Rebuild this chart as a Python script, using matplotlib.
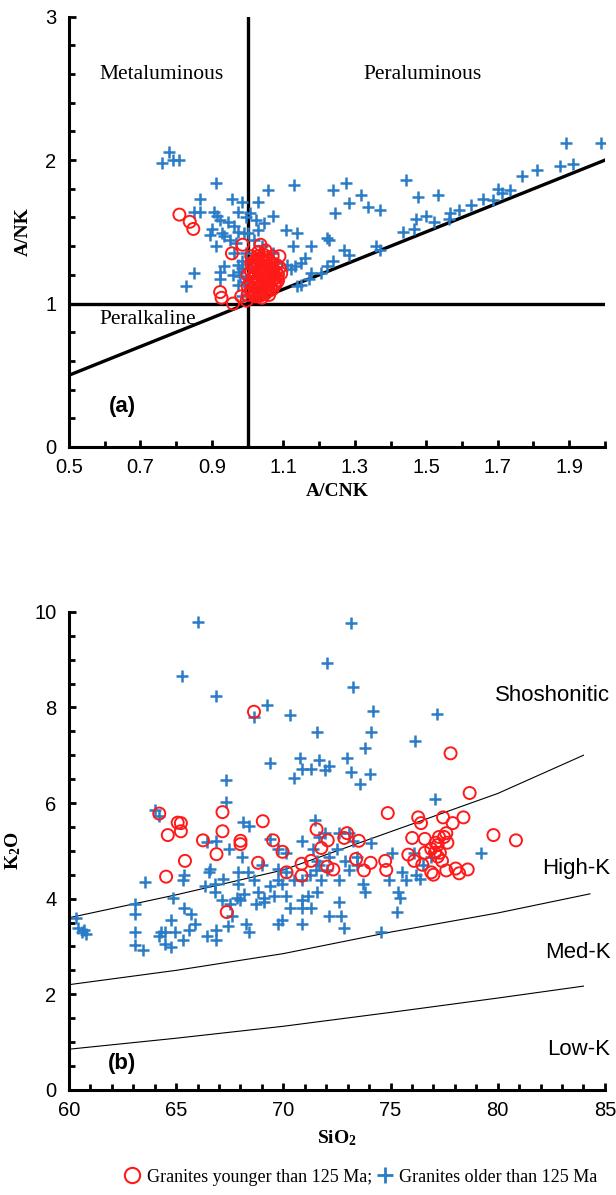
import matplotlib
matplotlib.use('Agg')
import matplotlib.pyplot as plt
from matplotlib.ticker import MultipleLocator
from matplotlib.lines import Line2D

BLUE = '#2a7cc6'
RED = '#ff1a1a'

# ---- (a) A/CNK vs A/NK ----
old_acnk = [0.761, 0.780, 0.791, 0.807, 0.912, 0.866, 0.851, 0.868, 0.906, 0.915,
            0.955, 0.984, 0.973, 1.006, 1.030, 1.058, 1.072, 1.130, 1.023, 1.045,
            0.945, 0.962, 0.901, 0.929, 0.973, 0.912, 1.001, 1.106, 1.139, 1.128,
            1.178, 1.222, 1.227, 1.238, 1.275, 1.283, 1.316, 1.338, 1.371, 1.244,
            1.443, 1.478, 1.533, 1.498, 1.470, 1.522, 1.434, 1.465, 1.564, 1.592,
            1.625, 1.660, 1.686, 1.700, 1.713, 1.735, 1.768, 1.809, 1.873, 1.912,
            1.892, 1.990, 1.566, 1.360, 1.371, 1.271, 1.283, 1.238, 1.222, 1.205,
            1.178, 1.172, 1.150, 1.133, 1.139, 1.150, 1.122, 1.161, 1.072, 1.083,
            1.111, 0.923, 0.934, 0.923, 0.851, 0.827, 0.973, 0.984, 0.962, 0.995,
            0.978, 0.973, 0.984, 0.967, 0.989, 0.951, 1.017, 1.039, 1.028, 0.995,
            0.923, 0.934, 0.896, 1.017, 1.001, 0.985, 0.975, 0.990, 1.010, 0.960]
old_ank = [1.98, 2.06, 2.00, 2.00, 1.84, 1.73, 1.64, 1.64, 1.64, 1.61,
           1.73, 1.71, 1.64, 1.63, 1.71, 1.79, 1.61, 1.83, 1.58, 1.56,
           1.57, 1.54, 1.52, 1.49, 1.50, 1.40, 1.49, 1.51, 1.49, 1.40,
           1.40, 1.46, 1.44, 1.79, 1.84, 1.70, 1.76, 1.67, 1.65, 1.63,
           1.86, 1.74, 1.76, 1.61, 1.59, 1.57, 1.50, 1.52, 1.59, 1.65,
           1.69, 1.73, 1.72, 1.80, 1.77, 1.79, 1.89, 1.93, 1.96, 1.97,
           2.12, 2.12, 1.63, 1.40, 1.37, 1.37, 1.34, 1.30, 1.26, 1.21,
           1.21, 1.17, 1.28, 1.26, 1.12, 1.13, 1.24, 1.32, 1.35, 1.28,
           1.27, 1.22, 1.26, 1.17, 1.21, 1.12, 1.27, 1.30, 1.35, 1.35,
           1.19, 1.13, 1.05, 1.42, 1.49, 1.44, 1.44, 1.40, 1.51, 1.60,
           1.58, 1.47, 1.48, 1.10, 1.18, 1.25, 1.22, 1.15, 1.28, 1.20]

young_acnk = [0.809, 0.838, 0.848, 0.956, 0.986, 1.036, 0.923, 0.927, 0.959, 0.982,
              0.997, 1.089, 1.094,
              1.02, 1.03, 1.05, 1.06, 1.07, 1.04, 1.02, 1.01, 1.03, 1.05,
              1.07, 1.08, 1.06, 1.04, 1.02, 1.01, 1.03, 1.05, 1.07, 1.08,
              1.06, 1.04, 1.02, 1.01, 1.03, 1.05, 1.06, 1.04, 1.02, 1.00,
              1.03, 1.01, 1.05, 1.07, 1.08, 1.09, 1.00, 1.00, 1.05, 1.03,
              1.04, 1.06, 1.02, 1.05, 1.03, 1.07, 1.08, 1.06, 1.04, 1.01,
              1.015, 1.025, 1.035, 1.045, 1.055, 1.065, 1.075, 1.085, 1.015, 1.025,
              1.035, 1.045, 1.055, 1.065, 1.075, 1.085, 1.020, 1.030, 1.040, 1.050,
              1.060, 1.070, 1.010, 1.020, 1.030, 1.040, 1.050, 1.060, 1.030, 1.045]
young_ank = [1.62, 1.57, 1.52, 1.35, 1.41, 1.41, 1.08, 1.04, 1.00, 1.05,
             1.02, 1.33, 1.21,
             1.30, 1.33, 1.32, 1.30, 1.28, 1.27, 1.25, 1.22, 1.22, 1.24,
             1.24, 1.22, 1.20, 1.19, 1.18, 1.15, 1.15, 1.16, 1.17, 1.18,
             1.13, 1.12, 1.11, 1.08, 1.08, 1.10, 1.09, 1.06, 1.05, 1.06,
             1.36, 1.28, 1.37, 1.33, 1.27, 1.25, 1.20, 1.12, 1.21, 1.18,
             1.14, 1.16, 1.21, 1.28, 1.27, 1.20, 1.14, 1.26, 1.31, 1.33,
             1.26, 1.29, 1.24, 1.29, 1.26, 1.22, 1.20, 1.16, 1.19, 1.16,
             1.12, 1.17, 1.13, 1.11, 1.13, 1.20, 1.07, 1.10, 1.08, 1.12,
             1.14, 1.10, 1.10, 1.08, 1.05, 1.04, 1.07, 1.06, 1.31, 1.34]

# ---- (b) SiO2 vs K2O ----
old_sio2 = [66.01, 73.15, 65.28, 66.88, 72.05, 73.25, 69.23, 70.30, 68.63, 74.17,
            74.08, 71.59, 76.14, 77.18, 73.79, 70.76, 71.68, 72.97, 69.38, 70.48,
            70.85, 71.31, 71.96, 72.14, 73.15, 73.58, 74.04, 67.34, 67.34, 77.07,
            63.99, 64.21, 68.12, 68.41, 71.49, 66.42, 66.88, 67.47, 68.08, 69.38,
            69.75, 70.11, 70.85, 71.40, 71.59, 72.14, 72.51, 72.88, 73.06, 73.25,
            73.43, 74.08, 75.09, 75.55, 75.73, 76.20, 76.38, 75.36, 75.46, 75.31,
            74.54, 74.91, 73.79, 73.70, 79.24, 73.43, 73.06, 72.60, 72.60, 72.69,
            72.84, 72.14, 71.31, 70.85, 70.85, 70.30, 69.93, 69.75, 70.85, 70.48,
            69.75, 69.38, 68.82, 69.10, 69.56, 69.93, 70.11, 68.63, 68.35, 67.90,
            68.18, 67.86, 67.53, 67.16, 66.79, 66.79, 66.36, 66.51, 65.36, 65.32,
            64.85, 65.36, 65.69, 65.87, 65.60, 65.32, 64.94, 64.76, 64.48, 64.21,
            64.48, 64.76, 64.30, 63.56, 63.10, 63.10, 63.06, 63.10, 63.47, 66.42,
            66.88, 66.88, 67.43, 68.26, 68.41, 60.33, 60.42, 60.61, 60.79, 60.70,
            67.62, 68.00, 68.74, 69.10, 70.85, 71.13, 71.59, 71.77, 71.50, 72.05,
            71.68, 71.22, 69.75, 70.11, 69.00, 67.90, 66.60, 67.20, 76.10, 76.50,
            76.90, 71.96, 71.68, 72.60]
old_k2o = [9.79, 9.77, 8.65, 8.24, 8.94, 8.43, 8.06, 7.85, 7.81, 7.93,
           7.48, 7.48, 7.29, 7.87, 7.15, 6.94, 6.90, 6.94, 6.84, 6.53,
           6.71, 6.71, 6.69, 6.78, 6.65, 6.40, 6.61, 6.49, 6.03, 6.09,
           5.85, 5.72, 5.60, 5.52, 5.64, 5.19, 5.21, 5.04, 4.88, 5.25,
           5.04, 4.96, 5.21, 5.04, 4.79, 4.88, 5.04, 4.79, 5.37, 5.21,
           4.88, 5.17, 4.96, 4.55, 4.38, 4.50, 4.42, 4.13, 4.01, 3.72,
           3.31, 4.38, 4.13, 4.30, 4.96, 4.71, 4.59, 4.38, 3.93, 3.64,
           3.39, 3.64, 3.80, 3.80, 3.47, 3.80, 3.55, 3.47, 4.38, 4.38,
           4.38, 4.26, 4.13, 4.01, 4.05, 4.30, 4.05, 4.38, 4.55, 4.30,
           4.09, 4.01, 3.88, 3.97, 4.13, 4.30, 4.26, 4.55, 4.50, 4.38,
           4.01, 3.80, 3.68, 3.47, 3.35, 3.14, 3.31, 3.55, 3.31, 3.22,
           3.06, 2.98, 3.31, 4.34, 3.88, 3.68, 3.31, 3.02, 2.93, 3.22,
           3.35, 3.14, 3.43, 3.47, 3.31, 3.60, 3.39, 3.31, 3.27, 3.35,
           3.64, 3.97, 3.88, 3.93, 3.97, 4.05, 4.13, 4.38, 4.59, 4.59,
           4.71, 4.50, 4.63, 4.55, 4.71, 4.55, 4.63, 4.42, 4.96, 4.71,
           4.88, 5.37, 5.29, 5.37]

young_sio2 = [68.63, 77.80, 78.69, 64.21, 67.16, 74.87, 65.07, 65.22, 65.22, 69.04,
              67.16, 64.61, 66.25, 68.00, 68.00, 69.52, 66.88, 65.41, 68.82, 69.96,
              71.55, 71.77, 72.07, 71.29, 70.85, 70.85, 70.15, 72.05, 72.33, 72.84,
              72.97, 73.52, 73.39, 73.76, 74.07, 74.75, 74.80, 64.53, 67.36, 76.01,
              76.29, 76.42, 75.83, 76.10, 76.48, 76.60, 76.60, 76.90, 77.00, 76.90,
              77.10, 77.20, 77.30, 77.40, 77.50, 77.60, 77.45, 77.65, 77.26, 77.20,
              77.07, 77.60, 77.90, 78.40, 78.04, 78.20, 78.60, 79.80, 80.85]
young_k2o = [7.91, 7.04, 6.21, 5.78, 5.81, 5.79, 5.59, 5.58, 5.41, 5.62,
             5.41, 5.33, 5.22, 5.21, 5.14, 5.22, 4.93, 4.79, 4.75, 4.98,
             5.45, 5.06, 5.22, 4.79, 4.73, 4.48, 4.55, 4.67, 4.61, 5.27,
             5.37, 5.21, 4.83, 4.59, 4.75, 4.79, 4.60, 4.46, 3.72, 5.27,
             5.70, 5.58, 4.92, 4.79, 4.71, 4.96, 5.25, 4.55, 4.50, 5.04,
             5.17, 4.88, 4.96, 4.79, 5.29, 5.37, 5.70, 5.17, 5.29, 5.12,
             4.96, 4.59, 5.58, 5.70, 4.63, 4.53, 4.61, 5.33, 5.22]

# series boundaries in the K2O-SiO2 diagram
shosh_x = [60, 65, 70, 75, 80, 84]
shosh_y = [3.60, 4.08, 4.60, 5.40, 6.20, 7.00]
highk_x = [60, 65, 70, 75, 80, 84.3]
highk_y = [2.20, 2.50, 2.85, 3.30, 3.70, 4.10]
medk_x = [60, 65, 70, 75, 80, 84]
medk_y = [0.85, 1.08, 1.33, 1.62, 1.92, 2.17]

serif = ['Liberation Serif', 'DejaVu Serif']
sans = ['Liberation Sans', 'DejaVu Sans']
plt.rcParams['font.family'] = sans
plt.rcParams['mathtext.fontset'] = 'custom'
plt.rcParams['mathtext.rm'] = 'Liberation Serif'
plt.rcParams['mathtext.bf'] = 'Liberation Serif:bold'

fig = plt.figure(figsize=(6.16, 11.95), dpi=100)
ax1 = fig.add_axes([0.112, 0.626, 0.870, 0.360])
ax2 = fig.add_axes([0.112, 0.088, 0.870, 0.400])


def style_axes(ax):
    for s in ['top', 'right']:
        ax.spines[s].set_visible(False)
    for s in ['left', 'bottom']:
        ax.spines[s].set_linewidth(2.2)
    ax.tick_params(which='both', direction='in', width=2, labelsize=14.5)
    ax.tick_params(which='major', length=5)
    ax.tick_params(which='minor', length=4)
    ax.tick_params(axis='y', pad=9)
    ax.tick_params(axis='x', pad=8)


# panel (a)
ax1.set_xlim(0.5, 2.0)
ax1.set_ylim(0, 3)
ax1.plot([0.5, 2.0], [1, 1], color='black', lw=2.4, zorder=1)
ax1.plot([1, 1], [0, 3], color='black', lw=2.4, zorder=1)
ax1.plot([0.5, 2.0], [0.5, 2.0], color='black', lw=2.4, zorder=1)
ax1.scatter(old_acnk, old_ank, marker='+', s=70, color=BLUE, linewidths=1.8, zorder=2)
ax1.scatter(young_acnk, young_ank, marker='o', s=75, facecolors='none',
            edgecolors=RED, linewidths=1.4, zorder=3)
ax1.xaxis.set_minor_locator(MultipleLocator(0.1))
ax1.yaxis.set_major_locator(MultipleLocator(1))
ax1.yaxis.set_minor_locator(MultipleLocator(0.2))
ax1.set_xticks([0.5, 0.7, 0.9, 1.1, 1.3, 1.5, 1.7, 1.9])
ax1.set_xticklabels(['0.5', '0.7', '0.9', '1.1', '1.3', '1.5', '1.7', '1.9'])
style_axes(ax1)
ax1.text(0.76, 2.6, 'Metaluminous', family=serif, fontsize=15.5, ha='center', va='center')
ax1.text(1.49, 2.6, 'Peraluminous', family=serif, fontsize=15.5, ha='center', va='center')
ax1.text(0.72, 0.89, 'Peralkaline', family=serif, fontsize=15.5, ha='center', va='center')
ax1.text(0.65, 0.28, '(a)', fontsize=16, fontweight='bold', ha='center', va='center')
ax1.set_xlabel('A/CNK', family=serif, fontsize=14, fontweight='bold', labelpad=4)
ax1.set_ylabel('A/NK', family=serif, fontsize=14, fontweight='bold', labelpad=10)

# panel (b)
ax2.set_xlim(60, 85)
ax2.set_ylim(0, 10)
for bx, by in [(shosh_x, shosh_y), (highk_x, highk_y), (medk_x, medk_y)]:
    ax2.plot(bx, by, color='black', lw=0.8, zorder=1)
ax2.scatter(old_sio2, old_k2o, marker='+', s=70, color=BLUE, linewidths=1.8, zorder=2)
ax2.scatter(young_sio2, young_k2o, marker='o', s=75, facecolors='none',
            edgecolors=RED, linewidths=1.4, zorder=3)
ax2.xaxis.set_major_locator(MultipleLocator(5))
ax2.xaxis.set_minor_locator(MultipleLocator(1))
ax2.yaxis.set_major_locator(MultipleLocator(2))
ax2.yaxis.set_minor_locator(MultipleLocator(0.5))
style_axes(ax2)
# series names, right-aligned just past the end of the x axis
for name, yy in [('Shoshonitic', 8.26), ('High-K', 4.64), ('Med-K', 2.87), ('Low-K', 0.85)]:
    ax2.text(85.25, yy, name, fontsize=16, ha='right', va='center', clip_on=False)
ax2.text(62.45, 0.55, '(b)', fontsize=16, fontweight='bold', ha='center', va='center')
ax2.set_xlabel(r'$\mathbf{SiO_2}$', fontsize=14, labelpad=6)
ax2.set_ylabel(r'$\mathbf{K_2O}$', fontsize=14, labelpad=8)

handles = [Line2D([], [], marker='o', ls='none', mfc='none', mec=RED, mew=1.5, ms=11),
           Line2D([], [], marker='+', ls='none', color=BLUE, mew=2, ms=11)]
fig.legend(handles, ['Granites younger than 125 Ma;', 'Granites older than 125 Ma'],
           loc='center', bbox_to_anchor=(0.585, 0.015), ncol=2, frameon=False,
           prop={'family': serif, 'size': 13}, handletextpad=0.3, columnspacing=0.2,
           handlelength=1.0)

fig.savefig('out.png', dpi=100)
